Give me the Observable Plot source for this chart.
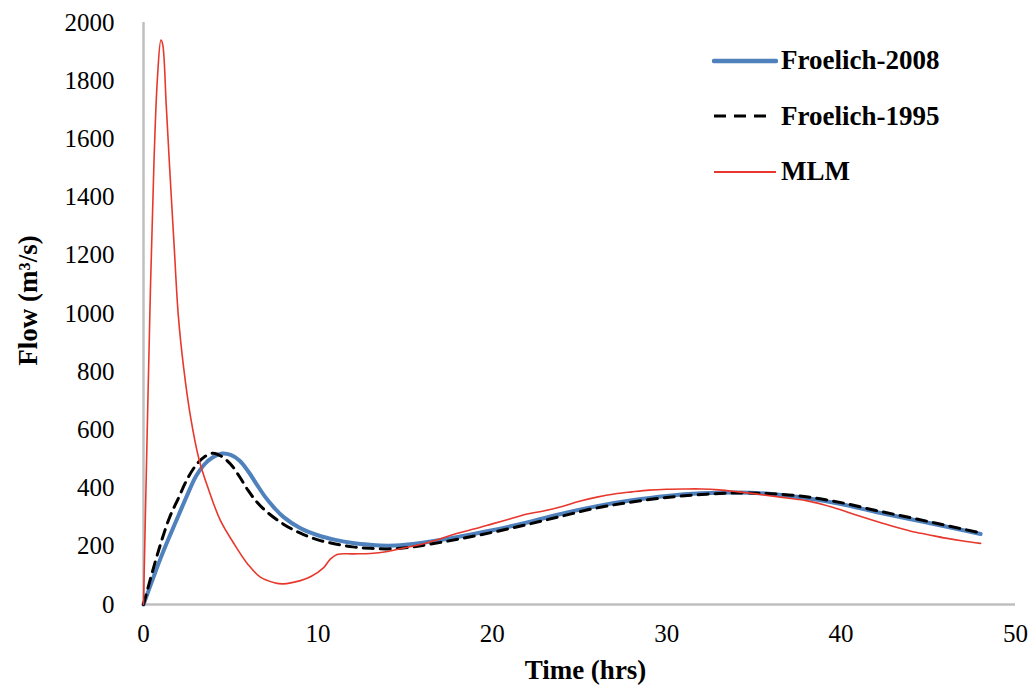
<!DOCTYPE html>
<html>
<head>
<meta charset="utf-8">
<script src="https://cdn.jsdelivr.net/npm/d3@7"></script>
<script src="https://cdn.jsdelivr.net/npm/@observablehq/plot@0.6"></script>
<style>
  html, body { margin: 0; padding: 0; background: #fff; }
  #wrap { position: relative; width: 1034px; height: 687px; font-family: "Liberation Serif", "Times New Roman", serif; }
  #chart svg, #chart svg text, #chart svg g { font-family: "Liberation Serif", "Times New Roman", serif !important; font-variant: normal !important; }
  #legend { position: absolute; left: 712px; top: 33px; }
  .row { display: flex; align-items: center; height: 55.5px; }
  .row svg { width: 66px; height: 10px; margin-right: 3px; }
  .row span { font-weight: bold; font-size: 27px; color: #000; }
</style>
</head>
<body>
<div id="wrap">
  <div id="chart"></div>
  <div id="legend"></div>
</div>
<script>
// ---- data ----
const seriesNames = ["Froelich-2008", "Froelich-1995", "MLM"];

const timeF2008 = [0,0.5,1,1.5,2,2.5,3,3.5,4,4.5,5,5.5,6,6.5,7,7.5,8,9,10,11,12,13,14,15,16,18,20,22,24,26,28,30,32,34,36,38,40,42,44,46,48];
const flowF2008 = [0,82,162,235,305,375,440,482,507,519,514,495,458,412,368,332,302,262,238,222,211,205,202,205,212,232,255,282,312,338,358,373,382,385,380,366,345,318,293,268,242];

const timeF1995 = [0,0.5,1,1.5,2,2.5,3,3.5,4,4.5,5,5.5,6,6.5,7,8,9,10,11,12,13,14,15,16,18,20,22,24,26,28,30,32,34,36,38,40,42,44,46,48];
const flowF1995 = [0,110,212,300,365,430,478,508,520,508,482,440,392,352,322,277,245,222,208,198,193,191,195,203,224,248,275,304,332,352,368,378,383,381,370,350,323,298,272,246];

const timeMLM = [0,0.2,0.4,0.6,0.8,1,1.1,1.3,1.5,1.75,2,2.3,2.7,3.2,3.75,4.4,5.2,6,6.7,7.5,8,9,9.6,10.3,10.7,11.1,12,13,14,15,16,17,18,19,20,21,22,23,24,25,26,27,28,29,30,31,32,33,34,35,36,37,38,39,40,41,42,43,44,45,46,47,48];
const flowMLM = [0,560,1090,1520,1810,1940,1925,1720,1500,1240,990,815,644,495,392,290,208,137,94,75,71,82,96,125,155,172,174,175,182,195,208,225,245,260,277,294,311,322,337,355,369,380,387,393,396,397,397,394,388,381,373,365,357,343,325,305,286,268,252,240,228,218,210];

const xTicks = [0,10,20,30,40,50];
const yTicks = [0,200,400,600,800,1000,1200,1400,1600,1800,2000];

const colors = ["#4f81bd", "#000000", "#e8382d"];

const toRows = (name, ts, vs) => ts.map((t, i) => ({series: name, time: t, flow: vs[i]}));
const dF2008 = toRows(seriesNames[0], timeF2008, flowF2008);
const dF1995 = toRows(seriesNames[1], timeF1995, flowF1995);
const dMLM = toRows(seriesNames[2], timeMLM, flowMLM);

const axisColor = "#bfbfbf";
const serif = "'Liberation Serif', 'Times New Roman', serif";

const chart = Plot.plot({
  width: 1034,
  height: 687,
  marginLeft: 143,
  marginRight: 19,
  marginTop: 22,
  marginBottom: 83,
  style: {fontFamily: serif, fontSize: "25px", color: "#000", background: "#fff"},
  x: {domain: [0, 50], ticks: xTicks, tickFormat: "d", tickSize: 0, tickPadding: 20, label: null},
  y: {domain: [0, 2000], ticks: yTicks, tickFormat: "d", tickSize: 0, tickPadding: 29, label: null},
  marks: [
    Plot.ruleY([0], {stroke: axisColor, strokeWidth: 2.5}),
    Plot.ruleX([0], {y1: 0, y2: 2000, stroke: axisColor, strokeWidth: 2.5}),
    Plot.line(dF2008, {x: "time", y: "flow", stroke: colors[0], strokeWidth: 4, curve: "catmull-rom"}),
    Plot.line(dF1995, {x: "time", y: "flow", stroke: colors[1], strokeWidth: 3, strokeDasharray: "10,7", curve: "catmull-rom"}),
    Plot.line(dMLM, {x: "time", y: "flow", stroke: colors[2], strokeWidth: 1.6, curve: "catmull-rom"}),
    Plot.text(["Flow (m³/s)"], {frameAnchor: "left", textAnchor: "middle", lineAnchor: "middle", rotate: -90, dx: -115, dy: -13, fontWeight: "bold", fontSize: 27}),
    Plot.text(["Time (hrs)"], {frameAnchor: "bottom", textAnchor: "middle", lineAnchor: "middle", dx: 6, dy: 66, fontWeight: "bold", fontSize: 27})
  ]
});
d3.select(chart).selectAll("text").attr("font-family", serif);
document.getElementById("chart").appendChild(chart);

// legend
const legend = document.getElementById("legend");
const styles = [
  {w: 4.5, dash: null},
  {w: 3, dash: "12,8"},
  {w: 2, dash: null}
];
seriesNames.forEach((name, i) => {
  const row = document.createElement("div");
  row.className = "row";
  const dash = styles[i].dash ? ` stroke-dasharray="${styles[i].dash}"` : "";
  row.innerHTML = `<svg viewBox="0 0 66 10"><line x1="2" y1="5" x2="${i===1?60:64}" y2="5" stroke="${colors[i]}" stroke-width="${styles[i].w}" stroke-linecap="${i===0?'round':'butt'}"${dash}/></svg><span>${name}</span>`;
  legend.appendChild(row);
});
</script>
</body>
</html>
